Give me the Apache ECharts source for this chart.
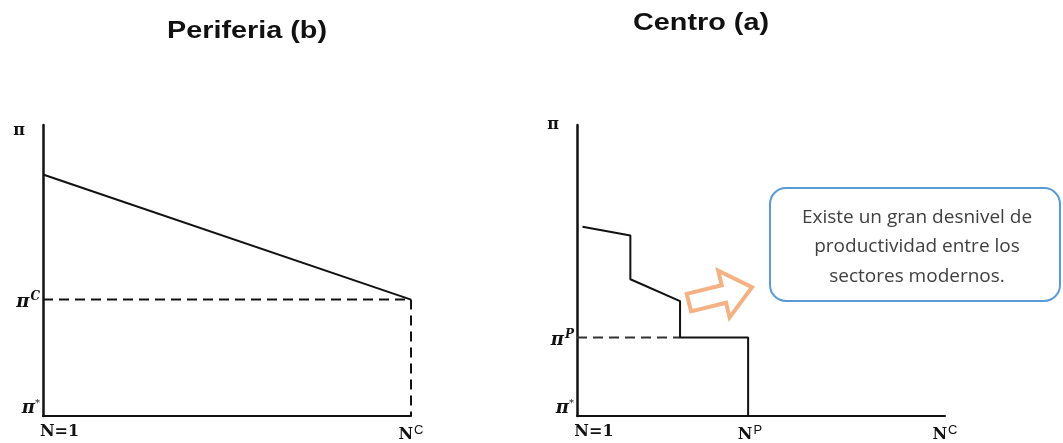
<!DOCTYPE html>
<html>
<head>
<meta charset="utf-8">
<script src="https://cdn.jsdelivr.net/npm/echarts@6/dist/echarts.min.js"></script>
<style>
  html, body { margin: 0; padding: 0; background: #fff; }
  #chart { width: 1063px; height: 443px; }
</style>
</head>
<body>
<div id="chart"></div>
<script>
  // Periferia (b): linear curve from N=1 to N^C
  var leftX = [0, 100];
  var leftY = [83, 40];
  var leftGuideX = [0, 100, 100];
  var leftGuideY = [40, 40, 0];

  // Centro (a): stepped curve
  var rightX = [1.5, 14.5, 14.5, 28, 28, 46.5, 46.5];
  var rightY = [65, 62, 47, 39.5, 27, 27, 0];
  var rightGuideX = [0, 28];
  var rightGuideY = [27, 27];

  // tick labels
  var leftYTicks = [2.5, 39, 98];
  var leftYSup = ['*', 'C', ''];
  var leftXTicks = [4.5, 100];
  var leftXNames = ['N=1', 'N'];
  var leftXSup = ['', 'C'];

  var rightYTicks = [2.5, 26, 100];
  var rightYSup = ['*', 'P', ''];
  var rightXTicks = [4.6, 47, 100];
  var rightXNames = ['N=1', 'N', 'N'];
  var rightXSup = ['', 'P', 'C'];

  var titles = ['Periferia (b)', 'Centro (a)'];
  var boxLines = ['Existe un gran desnivel de', 'productividad entre los', 'sectores modernos.'];

  function pairs(xs, ys) {
    var out = [];
    for (var i = 0; i < xs.length; i++) out.push([xs[i], ys[i]]);
    return out;
  }

  var yRich = {
    up: { fontFamily: 'DejaVu Serif', fontWeight: 'bold', fontSize: 16, color: '#111', padding: [0, 15, 0, 0] },
    it: { fontFamily: 'DejaVu Serif', fontWeight: 'bold', fontStyle: 'italic', fontSize: 18, color: '#111' },
    s: { fontFamily: 'DejaVu Serif', fontStyle: 'italic', fontWeight: 'bold', fontSize: 12, color: '#111', padding: [0, 0, 11, 1] },
    st: { fontFamily: 'DejaVu Serif', fontSize: 10, color: '#111', padding: [0, 0, 10, 0] }
  };
  var xRich = {
    n: { fontFamily: 'DejaVu Serif', fontWeight: 'bold', fontSize: 16, color: '#111' },
    s: { fontFamily: 'Liberation Sans', fontSize: 13, color: '#111', padding: [0, 0, 9, 1] }
  };

  function yFmt(ticks, sups) {
    return function (v) {
      var i = ticks.indexOf(v);
      if (i < 0) return '';
      if (sups[i] === '') return '{up|π}';
      if (sups[i] === '*') return '{it|π}{st|*}';
      return '{it|π}{s|' + sups[i] + '}';
    };
  }
  function xFmt(ticks, names, sups) {
    return function (v) {
      var i = ticks.indexOf(v);
      if (i < 0) return '';
      return '{n|' + names[i] + '}' + (sups[i] ? '{s|' + sups[i] + '}' : '');
    };
  }

  function xAxisOpt(idx, ticks, names, sups) {
    return {
      gridIndex: idx, type: 'value', min: 0, max: 100,
      splitLine: { show: false },
      axisTick: { show: false },
      axisLine: { lineStyle: { color: '#111', width: 2 } },
      axisLabel: {
        customValues: ticks, margin: 8,
        formatter: xFmt(ticks, names, sups), rich: xRich
      }
    };
  }
  function yAxisOpt(idx, ticks, sups) {
    return {
      gridIndex: idx, type: 'value', min: 0, max: 100,
      splitLine: { show: false },
      axisTick: { show: false },
      axisLine: { lineStyle: { color: '#111', width: 2.5 } },
      axisLabel: {
        customValues: ticks, margin: 3,
        formatter: yFmt(ticks, sups), rich: yRich
      }
    };
  }

  var titleFont = 'bold 24px "Liberation Sans"';

  var chart = echarts.init(document.getElementById('chart'));
  chart.setOption({
    animation: false,
    backgroundColor: '#fff',
    grid: [
      { left: 43, width: 368, top: 125, bottom: 25 },
      { left: 577, width: 368, top: 125, bottom: 25 }
    ],
    xAxis: [
      xAxisOpt(0, leftXTicks, leftXNames, leftXSup),
      xAxisOpt(1, rightXTicks, rightXNames, rightXSup)
    ],
    yAxis: [
      yAxisOpt(0, leftYTicks, leftYSup),
      yAxisOpt(1, rightYTicks, rightYSup)
    ],
    series: [
      { type: 'line', xAxisIndex: 0, yAxisIndex: 0, data: pairs(leftX, leftY),
        symbol: 'none', lineStyle: { color: '#111', width: 2 } },
      { type: 'line', xAxisIndex: 0, yAxisIndex: 0, data: pairs(leftGuideX, leftGuideY),
        symbol: 'none', lineStyle: { color: '#111', width: 2, type: [10, 6] } },
      { type: 'line', xAxisIndex: 1, yAxisIndex: 1, data: pairs(rightGuideX, rightGuideY),
        symbol: 'none', lineStyle: { color: '#333', width: 2, type: [10, 6] } },
      { type: 'line', xAxisIndex: 1, yAxisIndex: 1, data: pairs(rightX, rightY),
        symbol: 'none', lineStyle: { color: '#111', width: 2 } }
    ],
    graphic: [
      {
        type: 'text', x: 247, y: 31, scaleX: 1.2,
        style: { text: titles[0], font: titleFont, fill: '#111', align: 'center', verticalAlign: 'middle' }
      },
      {
        type: 'text', x: 701, y: 23, scaleX: 1.2,
        style: { text: titles[1], font: titleFont, fill: '#111', align: 'center', verticalAlign: 'middle' }
      },
      {
        type: 'polygon', x: 720, y: 295, rotation: 0.24,
        shape: { points: [[-32, -9], [4, -9], [4, -24], [33, 0], [4, 24], [4, 9], [-32, 9]] },
        style: { fill: 'none', stroke: '#F4B183', lineWidth: 4, lineJoin: 'miter' }
      },
      {
        type: 'rect', x: 770, y: 188,
        shape: { width: 290, height: 113, r: 16 },
        style: { fill: '#fff', stroke: '#5B9BD5', lineWidth: 2 }
      },
      {
        type: 'text', x: 917, y: 247,
        style: {
          text: boxLines.join('\n'), fill: '#404040',
          font: '19px "Open Sans"', lineHeight: 29.5,
          align: 'center', verticalAlign: 'middle'
        }
      }
    ]
  });
</script>
</body>
</html>
